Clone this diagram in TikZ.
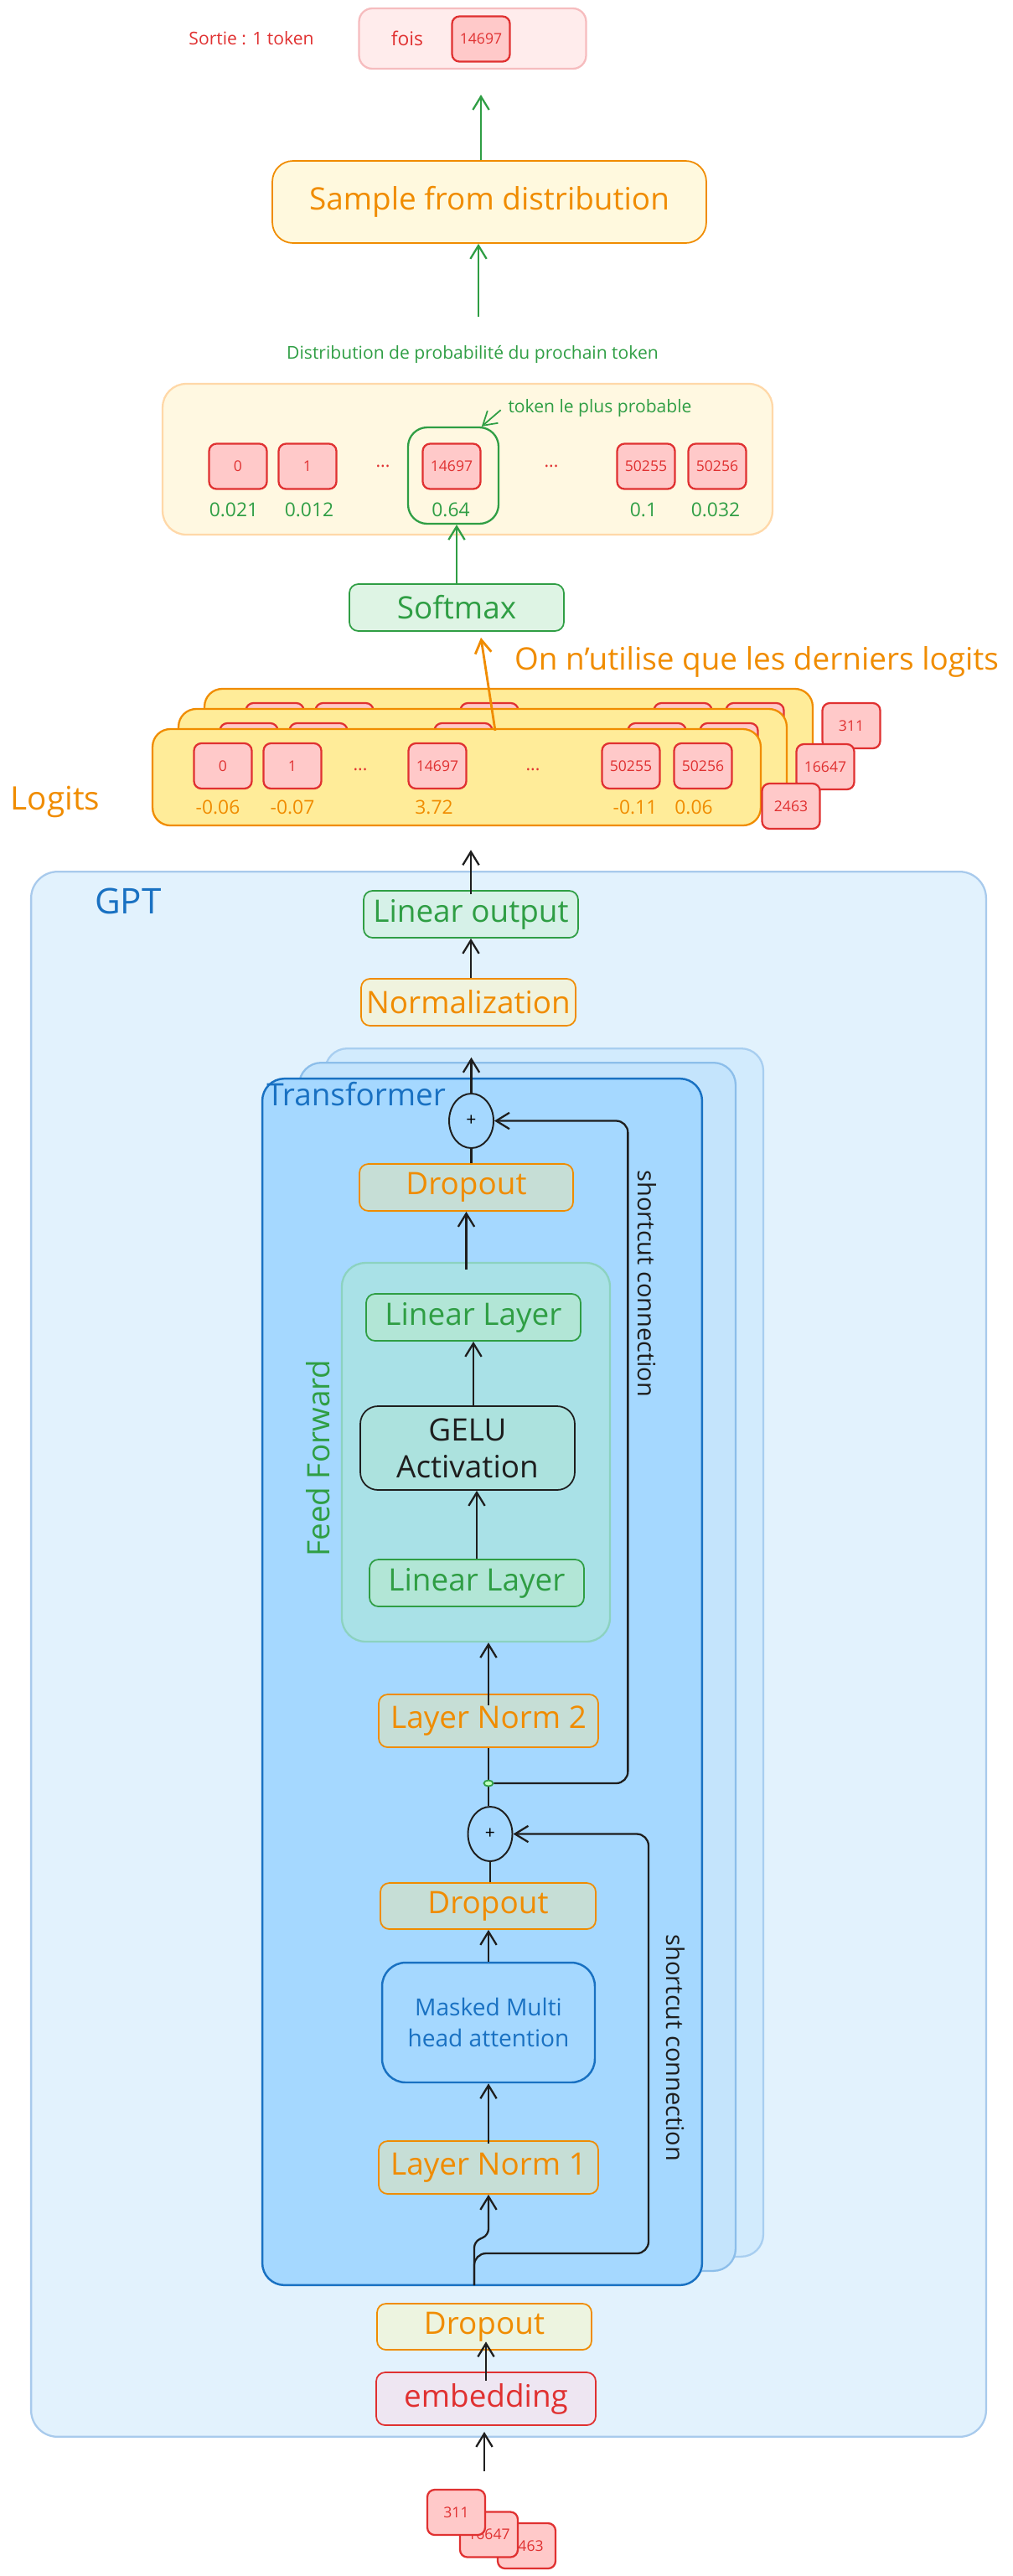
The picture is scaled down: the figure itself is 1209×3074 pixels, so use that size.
\documentclass[tikz,border=0pt]{standalone}
\usepackage{fontspec}
\setsansfont{Open Sans}
\RequirePackage{xcolor}
\definecolor{exred}{HTML}{E03131}
\definecolor{exredfill}{HTML}{FFC9C9}
\definecolor{exorange}{HTML}{F08C00}
\definecolor{exgreen}{HTML}{2F9E44}
\definecolor{exblue}{HTML}{1971C2}
\definecolor{exink}{HTML}{1E1E1E}
\definecolor{gptfill}{RGB}{226,242,253}
\definecolor{gptline}{RGB}{168,202,236}
\definecolor{tffill}{HTML}{A5D8FF}
\definecolor{tfmidfill}{RGB}{196,228,252}
\definecolor{tfmidline}{RGB}{140,190,234}
\definecolor{tfbackfill}{RGB}{210,235,253}
\definecolor{tfbackline}{RGB}{168,206,240}
\definecolor{fffill}{RGB}{169,225,231}
\definecolor{ffline}{RGB}{140,210,192}
\definecolor{logitfill}{HTML}{FFEC99}
\definecolor{probfill}{RGB}{255,248,225}
\definecolor{probline}{RGB}{255,216,168}
\definecolor{outfill}{RGB}{255,236,236}
\definecolor{outline}{RGB}{246,188,190}
\definecolor{samplefill}{RGB}{255,249,222}
\definecolor{softfill}{RGB}{222,244,228}
\definecolor{linfill}{RGB}{214,241,232}
\definecolor{normfill}{RGB}{240,243,222}
\definecolor{dropfill}{RGB}{198,222,214}
\definecolor{llfill}{RGB}{178,230,214}
\definecolor{gelufill}{RGB}{172,226,222}
\definecolor{dropofill}{RGB}{237,244,224}
\definecolor{embfill}{RGB}{238,230,242}
\tikzset{every picture/.style={/utils/exec={\sffamily}}}
\usetikzlibrary{calc}
\usetikzlibrary{positioning}
\usetikzlibrary{arrows.meta,shapes.geometric}

\tikzset{
  box/.style={draw, rounded corners=6pt, line width=1pt, inner sep=0pt, align=center},
  tok/.style={draw=exred, fill=exredfill, text=exred, rounded corners=5pt, line width=1.3pt,
    inner sep=0pt, minimum width=1.38cm, minimum height=1.08cm, font=\fontsize{10}{12}\selectfont},
  logitbox/.style={box, draw=exorange, fill=logitfill, line width=1.3pt, rounded corners=12pt,
    minimum width=14.52cm, minimum height=2.3cm},
  orangebox/.style={box, draw=exorange, text=exorange, bigtxt},
  greenbox/.style={box, draw=exgreen, text=exgreen, bigtxt},
  addcirc/.style={ellipse, draw=exink, line width=1.1pt, inner sep=0pt, minimum width=1.06cm,
    minimum height=1.3cm, font=\fontsize{12}{13}\selectfont},
  arr/.style={draw=exink, -{Straight Barb[length=9pt,width=11pt]}, line width=1.3pt},
  garr/.style={arr, draw=exgreen},
  oarr/.style={arr, draw=exorange, line width=1.6pt},
  plain/.style={draw=exink, line width=1.3pt},
  bigtxt/.style={font=\fontsize{21}{25}\selectfont},
  midtxt/.style={font=\fontsize{16}{21}\selectfont},
  sidetxt/.style={font=\fontsize{16.5}{18}\selectfont},
  smalltxt/.style={font=\fontsize{12}{14}\selectfont},
  valtxt/.style={font=\fontsize{13}{15}\selectfont},
}

\begin{document}
\begin{tikzpicture}[x=0.02cm, y=-0.02cm]
  \useasboundingbox (0,0) rectangle (1209,3074);

  % sortie
  \node[box, draw=outline, fill=outfill, line width=1.3pt, rounded corners=9pt, minimum width=5.42cm, minimum height=1.44cm] (sortie) at (564,46) {};
  \node[text=exred, smalltxt] (sortielbl) at (300,46) {Sortie : 1 token};
  \node[text=exred, font=\fontsize{13}{15}\selectfont] (fois) at (486,46) {fois};
  \node[tok] (outtok) at (574,46.5) {14697};

  \node[orangebox, fill=samplefill, rounded corners=14pt, minimum width=10.36cm, minimum height=1.96cm] (sample) at (584,241) {Sample from distribution};
  \draw[garr, shorten >=17pt] (sample.north -| outtok) -- (outtok |- sortie.south);

  \node[text=exgreen, smalltxt] (distlbl) at (564,423) {Distribution de probabilité du prochain token};
  \coordinate (probtop) at (571,378);
  \draw[garr] (probtop) -- (probtop |- sample.south);

  % distribution
  \node[box, draw=probline, fill=probfill, line width=1.3pt, rounded corners=16pt, minimum width=14.56cm, minimum height=3.6cm] (probs) at (558,548) {};
  \node[tok] (p0) at (284,556.5) {0};
  \node[tok] (p1) at (367,556.5) {1};
  \node[text=exred, smalltxt] (pdots1) at (457,556) {...};
  \node[tok] (p14697) at (539,556.5) {14697};
  \node[text=exred, smalltxt] (pdots2) at (658,556) {...};
  \node[tok] (p50255) at (771,556.5) {50255};
  \node[tok] (p50256) at (856,556.5) {50256};
  \foreach \x/\v in {279/0.021, 369/0.012, 538/0.64, 768/0.1, 854/0.032}
    \node[text=exgreen, valtxt] (pv\x) at (\x,608) {\v};
  \node[draw=exgreen, line width=1.3pt, rounded corners=13pt, minimum width=2.16cm, minimum height=2.3cm] (best) at (541,567.5) {};
  \node[text=exgreen, smalltxt] (bestlbl) at (716,487) {token le plus probable};
  \draw[garr, line width=1pt, shorten <=2pt] (bestlbl.west) -- (best.60);

  \node[greenbox, fill=softfill, minimum width=5.12cm, minimum height=1.12cm] (softmax) at (545,725) {Softmax};
  \draw[garr] (softmax.north) -- (softmax.north |- best.south);

  % logits
  \foreach \dx/\dy [count=\i] in {62/-48, 31/-24} {
    \node[logitbox] (lback\i) at ({545+\dx},{927.5+\dy}) {};
    \foreach \x in {266,349,522,753,839}
      \node[tok] at ({\x+\dx},{914+\dy}) {};
  }
  \node[logitbox] (logits) at (545,927.5) {};
  \node[tok] (l0) at (266,914) {0};
  \node[tok] (l1) at (349,914) {1};
  \node[text=exred, smalltxt] (ldots1) at (430,918) {...};
  \node[tok] (l14697) at (522,914) {14697};
  \node[text=exred, smalltxt] (ldots2) at (636,918) {...};
  \node[tok] (l50255) at (753,914) {50255};
  \node[tok] (l50256) at (839,914) {50256};
  \foreach \x/\v in {260/-0.06, 349/-0.07, 518/3.72, 758/-0.11, 828/0.06}
    \node[text=exorange, valtxt] (lv\x) at (\x,963) {\v};
  \node[tok] (s311) at (1016,866) {311};
  \node[tok] (s16647) at (985,915) {16647};
  \node[tok] (s2463) at (944,962) {2463};
  \node[text=exorange, font=\fontsize{22}{26}\selectfont] (logitslbl) at (66,957) {Logits};

  \draw[oarr] ($(logits.north)+(46,3)$) -- ($(softmax.south)+(29,7)$);
  \node[text=exorange, bigtxt, anchor=west] (lastlbl) at (608,790) {On n'utilise que les derniers logits};

  % GPT
  \node[box, draw=gptline, fill=gptfill, line width=1.3pt, rounded corners=18pt, minimum width=22.8cm, minimum height=37.36cm] (gpt) at (607,1974) {};
  \node[text=exblue, font=\fontsize{24}{28}\selectfont] (gptlbl) at (153,1075) {GPT};

  \node[greenbox, fill=linfill, minimum width=5.12cm, minimum height=1.12cm] (linout) at (562,1091) {Linear output};
  \draw[arr, shorten <=-3pt, shorten >=16pt] (linout.north) -- (linout.north |- logits.south);
  \node[orangebox, fill=normfill, minimum width=5.12cm, minimum height=1.12cm] (norm) at (559,1196) {Normalization};
  \draw[arr] (linout.south |- norm.north) -- (linout.south);

  % transformer
  \node[box, draw=tfbackline, fill=tfbackfill, line width=1.3pt, rounded corners=15pt, minimum width=10.46cm, minimum height=28.84cm] (tfback) at (649.5,1972) {};
  \node[box, draw=tfmidline, fill=tfmidfill, line width=1.3pt, rounded corners=15pt, minimum width=10.42cm, minimum height=28.84cm] (tfmid) at (617.5,1989) {};
  \node[box, draw=exblue, fill=tffill, line width=1.4pt, rounded corners=15pt, minimum width=10.5cm, minimum height=28.8cm] (tf) at (575.5,2007) {};
  \node[text=exblue, bigtxt, anchor=west, inner sep=0pt] (tflbl) at (318,1306) {Transformer};

  \node[addcirc] (add1) at (562.5,1337.5) {+};
  \draw[arr, shorten >=21pt] (add1.north) -- (add1.north |- norm.south);
  \node[orangebox, fill=dropfill, minimum width=5.1cm, minimum height=1.12cm] (dropT) at (556.5,1417) {Dropout};
  \draw[plain] (add1.south |- dropT.north) -- (add1.south);

  \node[box, draw=ffline, fill=fffill, line width=1.3pt, rounded corners=16pt, minimum width=6.4cm, minimum height=9.04cm] (ff) at (568,1733) {};
  \node[text=exgreen, bigtxt, rotate=90] (fflbl) at (380,1740) {Feed Forward};
  \draw[arr, shorten <=-5pt] (dropT.south |- ff.north) -- (dropT.south);
  \node[greenbox, fill=llfill, minimum width=5.12cm, minimum height=1.12cm] (lltop) at (565,1572) {Linear Layer};
  \node[box, draw=exink, fill=gelufill, text=exink, bigtxt, rounded corners=12pt, minimum width=5.12cm, minimum height=2cm] (gelu) at (558,1728) {GELU\\Activation};
  \node[greenbox, fill=llfill, minimum width=5.12cm, minimum height=1.12cm] (llbot) at (569,1889) {Linear Layer};
  \draw[arr] (lltop.south |- gelu.north) -- (lltop.south);
  \draw[arr] (llbot.north) -- (llbot.north |- gelu.south);

  \node[orangebox, fill=dropfill, minimum width=5.24cm, minimum height=1.26cm] (ln2) at (583,2053.5) {Layer Norm 2};
  \draw[arr, shorten <=-8pt] (ln2.north) -- (ln2.north |- ff.south);

  \node[addcirc] (add2) at (585,2188.5) {+};
  \draw[plain] (ln2.south |- add2.north) -- (ln2.south);
  \node[ellipse, draw=exgreen, fill=green!25, line width=1pt, inner sep=0pt, minimum width=0.22cm, minimum height=0.14cm] (tap1) at (583,2128) {};
  \draw[arr, rounded corners=8pt] (tap1.east) -- ++(160,0) |- (add1.east);
  \node[text=exink, sidetxt, rotate=-90] (sc1) at (772,1532) {shortcut connection};

  \node[orangebox, fill=dropfill, minimum width=5.14cm, minimum height=1.1cm] (dropM) at (582.5,2274.5) {Dropout};
  \draw[plain] (add2.south |- dropM.north) -- (add2.south);
  \node[box, draw=exblue, fill=tffill, text=exblue, midtxt, line width=1.4pt, rounded corners=16pt, minimum width=5.08cm, minimum height=2.86cm] (mha) at (583,2413.5) {Masked Multi\\head attention};
  \draw[arr] (mha.north) -- (mha.north |- dropM.south);
  \node[orangebox, fill=dropfill, minimum width=5.24cm, minimum height=1.26cm] (ln1) at (583,2586.5) {Layer Norm 1};
  \draw[arr, shorten <=-2pt] (ln1.north) -- (ln1.north |- mha.south);

  \coordinate (tin) at (566,2727);
  \draw[arr, rounded corners=4pt] (tin) -- ++(0,-52) -- ++(17,-8) -- (ln1.south);
  \draw[arr, rounded corners=8pt] (tin) -- ++(0,-38) -- ++(208,0) |- (add2.east);
  \node[text=exink, sidetxt, rotate=-90] (sc2) at (806,2444) {shortcut connection};

  % entree
  \node[orangebox, fill=dropofill, minimum width=5.12cm, minimum height=1.1cm] (dropO) at (578,2776.5) {Dropout};
  \node[box, draw=exred, fill=embfill, text=exred, bigtxt, minimum width=5.24cm, minimum height=1.26cm] (emb) at (580,2862.5) {embedding};
  \draw[arr, shorten <=-6pt, shorten >=-6pt] (emb.north) -- (emb.north |- dropO.south);
  \coordinate (toksin) at (578,2949);
  \draw[arr, shorten >=4pt] (toksin) -- (toksin |- emb.south);

  \node[tok] (t2463) at (628.5,3038) {2463};
  \node[tok] (t16647) at (583.5,3024.5) {16647};
  \node[tok] (t311) at (544.5,2998) {311};
\end{tikzpicture}
\end{document}
